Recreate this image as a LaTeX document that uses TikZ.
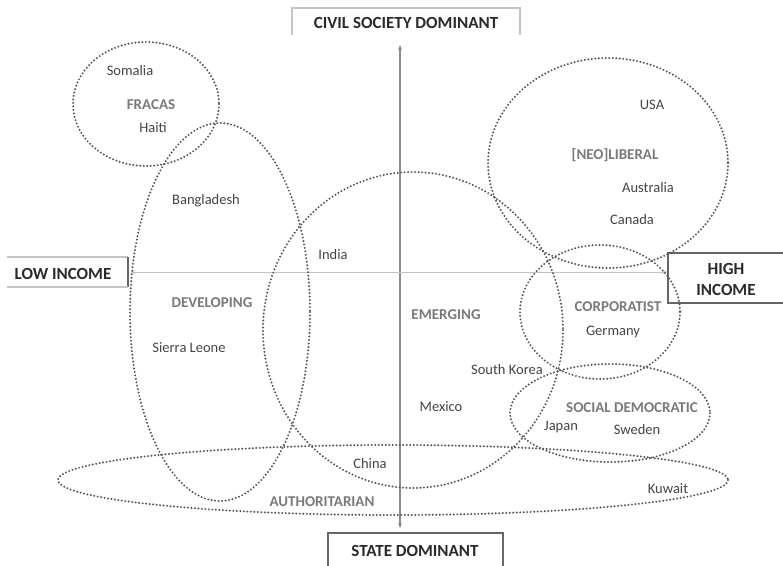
\documentclass[tikz,border=0pt]{standalone}
\usepackage{fontspec}
\setmainfont{Carlito}
\usetikzlibrary{arrows.meta}
\definecolor{dotc}{HTML}{555555}
\definecolor{countryc}{HTML}{444444}
\definecolor{regimec}{HTML}{7A7A7A}
\definecolor{boxc}{HTML}{2A2A2A}
\definecolor{boxline}{HTML}{666666}
\definecolor{lightline}{HTML}{C4C4C4}
\definecolor{vaxis}{HTML}{8C8C8C}
\begin{document}
\begin{tikzpicture}[x=1pt,y=-1pt,
  ring/.style={draw=dotc, line width=2.2pt, dash pattern=on 0pt off 3.5pt, line cap=round},
  country/.style={font=\fontsize{14.5}{17}\selectfont, text=countryc, inner sep=0pt},
  regime/.style={font=\fontsize{15}{18}\selectfont\bfseries, text=regimec, inner sep=0pt},
  axislabel/.style={font=\fontsize{17}{21}\selectfont\bfseries, text=boxc, inner sep=0pt, align=center},
  boxedge/.style={draw=boxline, line width=1.2pt},
  faintedge/.style={draw=lightline, line width=1.2pt},
  axisarrow/.style={{Stealth[length=5pt,width=4pt]}-{Stealth[length=5pt,width=4pt]}},
  ]
\useasboundingbox (0,0) rectangle (783,565);
\fill[white] (0,0) rectangle (783,565);

% axis boxes
\draw[faintedge] (292,35) -- (292,8) -- (520,8) -- (520,35);
\node[axislabel] (civil) at (406,23) {CIVIL SOCIETY DOMINANT};
\draw[boxedge] (328,567) -- (328,533) -- (503,533) -- (503,567);
\node[axislabel] (state) at (415,551) {STATE DOMINANT};
\draw[faintedge] (7,257) -- (128,257);
\draw[boxedge] (128,257) -- (128,287);
\draw[faintedge] (7,287) -- (128,287);
\node[axislabel] (low) at (63,274) {LOW INCOME};
\draw[boxedge] (785,253) -- (668,253) -- (668,303) -- (785,303);
\node[axislabel] (high) at (726,279) {HIGH\\INCOME};

% axes
\coordinate (vtop) at (400,45);
\coordinate (vbot) at (400,528);
\coordinate (hleft) at (130,272);
\coordinate (hright) at (667,272);
\draw[axisarrow, draw=vaxis, line width=1.5pt] (vtop) -- (vbot);
\draw[axisarrow, draw=lightline, line width=1pt] (hleft) -- (hright);

% regime ellipses
\draw[ring] (146,104) ellipse [x radius=73, y radius=62];
\draw[ring] (220,312) ellipse [x radius=90, y radius=189];
\draw[ring] (413,330) ellipse [x radius=150, y radius=158];
\draw[ring] (608,163) ellipse [x radius=120, y radius=105];
\draw[ring] (600,312) ellipse [x radius=80, y radius=67];
\draw[ring] (610,413) ellipse [x radius=100, y radius=49];
\draw[ring] (393,480) ellipse [x radius=335, y radius=35];

% regime labels
\node[regime] (fracas) at (151,105) {FRACAS};
\node[regime] (developing) at (212,303) {DEVELOPING};
\node[regime] (emerging) at (446,315) {EMERGING};
\node[regime] (neolib) at (615,155) {[NEO]LIBERAL};
\node[regime] (corp) at (618,307) {CORPORATIST};
\node[regime] (socdem) at (632,408) {SOCIAL DEMOCRATIC};
\node[regime] (auth) at (322,502) {AUTHORITARIAN};

% countries
\node[country] (somalia) at (130,71) {Somalia};
\node[country] (haiti) at (153,128) {Haiti};
\node[country] (bangladesh) at (206,201) {Bangladesh};
\node[country] (india) at (333,255) {India};
\node[country] (sierra) at (189,348) {Sierra Leone};
\node[country] (skorea) at (507,370) {South Korea};
\node[country] (mexico) at (441,407) {Mexico};
\node[country] (china) at (370,464) {China};
\node[country] (usa) at (652,105) {USA};
\node[country] (australia) at (648,188) {Australia};
\node[country] (canada) at (632,220) {Canada};
\node[country] (germany) at (613,332) {Germany};
\node[country] (japan) at (561,427) {Japan};
\node[country] (sweden) at (637,430) {Sweden};
\node[country] (kuwait) at (668,489) {Kuwait};
\end{tikzpicture}
\end{document}
